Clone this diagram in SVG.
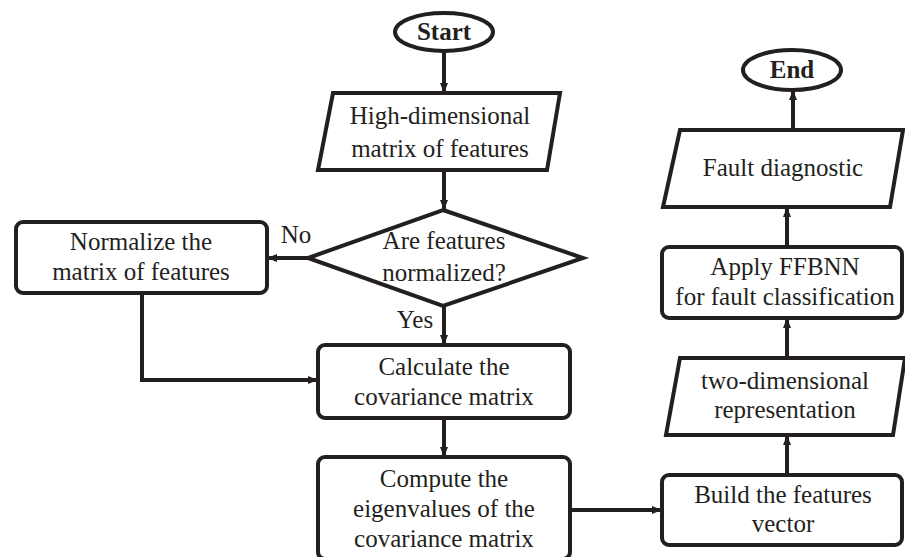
<svg xmlns="http://www.w3.org/2000/svg" width="905" height="557" viewBox="0 0 905 557">
  <style>
    .shape { fill: #fff; stroke: #231f20; stroke-width: 4; stroke-linejoin: miter; }
    .box { fill: #fff; stroke: #231f20; stroke-width: 4; }
    .lbl { font-family: "Liberation Serif", "DejaVu Serif", serif; font-size: 25px; fill: #231f20; text-anchor: middle; }
    .bold { font-weight: bold; }
    .edge { fill: none; stroke: #231f20; stroke-width: 4; marker-end: url(#arrow); }
  </style>
  <defs>
    <marker id="arrow" markerUnits="userSpaceOnUse" markerWidth="10" markerHeight="10" refX="9" refY="5" orient="auto">
      <path d="M0,1 L10,5 L0,9 z" fill="#231f20"/>
    </marker>
  </defs>
  <rect width="905" height="557" fill="#fff"/>

  <!-- connectors -->
  <g id="connectors">
    <path class="edge" d="M444,52 L444,92"/>
    <path class="edge" d="M444,170 L444,209"/>
    <path class="edge" d="M308,258 L268,258"/>
    <path class="edge" d="M444,306 L444,344"/>
    <path class="edge" d="M142,293 L142,380 L317,380"/>
    <path class="edge" d="M444,418 L444,456"/>
    <path class="edge" d="M570,510 L661,510"/>
    <path class="edge" d="M787,475 L787,436"/>
    <path class="edge" d="M787,358 L787,319"/>
    <path class="edge" d="M787,247 L787,208"/>
    <path class="edge" d="M793,130 L793,91"/>
  </g>

  <g id="start">
    <ellipse class="shape" cx="444" cy="32" rx="49" ry="19"/>
    <text class="lbl bold" x="444" y="40">Start</text>
  </g>

  <g id="input-matrix">
    <polygon class="shape" points="333,93 560,93 547,170 318,170"/>
    <text class="lbl" x="440" y="124">High-dimensional</text>
    <text class="lbl" x="440" y="157">matrix of features</text>
  </g>

  <g id="decision">
    <polygon class="shape" points="443,210 583,258 443,306 308,258"/>
    <text class="lbl" x="444" y="249">Are features</text>
    <text class="lbl" x="444" y="281">normalized?</text>
  </g>

  <g id="label-no">
    <text class="lbl" x="296" y="243">No</text>
  </g>
  <g id="label-yes">
    <text class="lbl" x="415" y="328">Yes</text>
  </g>

  <g id="normalize">
    <rect class="box" x="16" y="222" width="251" height="71" rx="7"/>
    <text class="lbl" x="141" y="250">Normalize the</text>
    <text class="lbl" x="141" y="280">matrix of features</text>
  </g>

  <g id="covariance">
    <rect class="box" x="318" y="345" width="252" height="73" rx="7"/>
    <text class="lbl" x="444" y="375">Calculate the</text>
    <text class="lbl" x="444" y="405">covariance matrix</text>
  </g>

  <g id="eigenvalues">
    <rect class="box" x="318" y="457" width="252" height="102" rx="7"/>
    <text class="lbl" x="444" y="487">Compute the</text>
    <text class="lbl" x="444" y="517">eigenvalues of the</text>
    <text class="lbl" x="444" y="547">covariance matrix</text>
  </g>

  <g id="features-vector">
    <rect class="box" x="662" y="475" width="240" height="70" rx="7"/>
    <text class="lbl" x="783" y="503">Build the features</text>
    <text class="lbl" x="783" y="532">vector</text>
  </g>

  <g id="two-dim">
    <polygon class="shape" points="680,358 905,358 893,435 666,435"/>
    <text class="lbl" x="785" y="389">two-dimensional</text>
    <text class="lbl" x="785" y="418">representation</text>
  </g>

  <g id="ffbnn">
    <rect class="box" x="662" y="247" width="240" height="71" rx="7"/>
    <text class="lbl" x="785" y="275">Apply FFBNN</text>
    <text class="lbl" x="785" y="305">for fault classification</text>
  </g>

  <g id="fault-diagnostic">
    <polygon class="shape" points="680,130 903,130 890,207 663,207"/>
    <text class="lbl" x="783" y="176">Fault diagnostic</text>
  </g>

  <g id="end">
    <ellipse class="shape" cx="792" cy="70" rx="49" ry="20"/>
    <text class="lbl bold" x="792" y="78">End</text>
  </g>
</svg>
